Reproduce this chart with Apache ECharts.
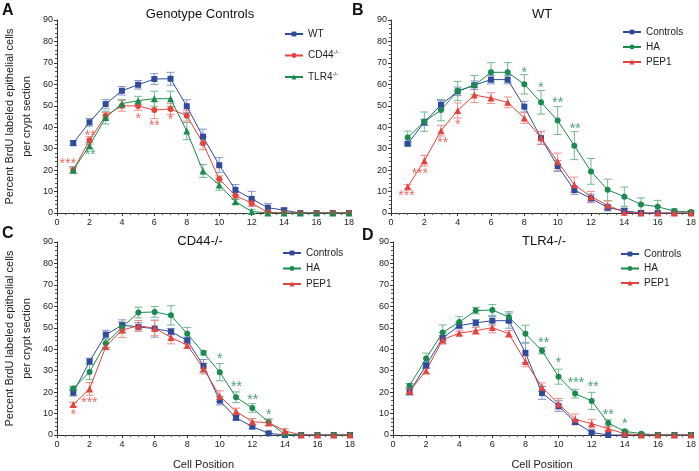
<!DOCTYPE html>
<html>
<head>
<meta charset="utf-8">
<script src="https://cdn.jsdelivr.net/npm/echarts@6/dist/echarts.min.js"></script>
<style>
  html, body { margin: 0; padding: 0; background: #fff; }
  #chart { width: 699px; height: 471px; }
</style>
</head>
<body>
<div id="chart"></div>
<script>
// cell positions along the crypt
const cellPos = [1, 2, 3, 4, 5, 6, 7, 8, 9, 10, 11, 12, 13, 14, 15, 16, 17, 18];
const xTicks = [0, 2, 4, 6, 8, 10, 12, 14, 16, 18];

// A - Genotype Controls
const aWT      = [32.6, 42.3, 50.8, 57.0, 59.8, 62.5, 62.6, 49.8, 35.6, 22.3, 10.8, 6.6, 2.5, 1.3, 0, 0, 0, 0];
const aWTErr   = [1.2, 1.8, 2.2, 2.0, 2.0, 2.5, 3.0, 3.0, 3.5, 3.5, 2.5, 3.5, 2.0, 1.0, 0, 0, 0, 0];
const aCD44    = [20.0, 33.9, 45.4, 50.0, 49.9, 48.0, 48.5, 45.4, 32.5, 15.8, 8.1, 4.6, 0.3, 0, 0, 0, 0, 0];
const aCD44Err = [1.5, 1.8, 1.5, 2.5, 2.0, 4.0, 2.5, 2.5, 3.0, 1.5, 1.5, 1.5, 0.5, 0, 0, 0, 0, 0];
const aTLR4    = [20.0, 31.4, 44.5, 51.0, 52.4, 53.3, 53.3, 38.2, 19.6, 13.1, 5.3, 0.7, 0, 0, 0, 0, 0, 0];
const aTLR4Err = [1.5, 1.5, 3.0, 2.0, 2.0, 3.5, 3.5, 4.0, 3.0, 2.5, 1.0, 1.0, 0, 0, 0, 0, 0, 0];

// B - WT
const bCtrl    = [32.3, 42.3, 50.5, 56.7, 59.6, 62.2, 62.2, 49.6, 34.9, 21.9, 10.7, 6.8, 2.5, 1.1, 0, 0, 0, 0];
const bCtrlErr = [1.0, 1.5, 2.0, 2.0, 2.0, 2.0, 2.0, 2.5, 3.0, 2.5, 2.0, 2.0, 1.5, 1.0, 0, 0, 0, 0];
const bHA      = [35.2, 42.6, 48.0, 56.9, 59.6, 65.6, 65.6, 60.0, 51.6, 43.1, 31.4, 19.4, 10.8, 7.6, 4.0, 2.9, 0.9, 0.5];
const bHAErr   = [3.0, 4.5, 5.0, 4.5, 4.5, 4.5, 4.5, 4.5, 5.5, 6.5, 6.5, 6.0, 5.0, 4.5, 3.0, 3.0, 1.0, 0.5];
const bPEP1    = [12.2, 24.4, 38.4, 47.8, 55.0, 53.6, 51.6, 44.3, 35.1, 23.9, 13.2, 7.6, 3.6, 0.3, 0, 0, 0, 0];
const bPEP1Err = [1.0, 2.5, 2.5, 3.5, 3.5, 2.5, 2.5, 2.5, 3.0, 4.0, 3.5, 2.5, 2.0, 0, 0, 0, 0, 0];

// C - CD44-/-
const cCtrl    = [19.7, 34.3, 46.8, 51.2, 50.4, 49.6, 48.2, 44.1, 32.2, 16.0, 8.0, 3.9, 0.8, 0, 0, 0, 0, 0];
const cCtrlErr = [1.5, 1.5, 2.0, 2.5, 2.0, 4.0, 1.5, 1.5, 3.0, 2.0, 1.0, 1.0, 0.5, 0, 0, 0, 0, 0];
const cHA      = [21.7, 29.4, 42.8, 50.2, 57.1, 57.4, 55.8, 47.2, 38.3, 29.3, 17.6, 12.6, 6.0, 0.3, 0, 0, 0, 0];
const cHAErr   = [1.0, 3.5, 2.0, 2.5, 2.5, 2.5, 4.5, 3.0, 1.0, 4.0, 2.5, 2.0, 1.5, 0.5, 0, 0, 0, 0];
const cPEP1    = [14.2, 21.5, 41.3, 49.0, 50.9, 49.8, 45.5, 41.9, 31.0, 18.1, 11.0, 6.2, 5.7, 1.9, 0, 0, 0, 0];
const cPEP1Err = [1.0, 3.0, 1.5, 3.5, 2.5, 3.5, 3.0, 1.5, 2.5, 2.5, 1.5, 1.5, 1.5, 1.0, 0, 0, 0, 0];

// D - TLR4-/-
const dCtrl    = [20.1, 32.5, 45.2, 51.0, 52.3, 53.3, 53.3, 38.3, 19.6, 13.5, 6.0, 1.2, 0, 0, 0, 0, 0, 0];
const dCtrlErr = [1.5, 1.5, 2.5, 1.5, 1.5, 2.0, 3.5, 4.5, 3.0, 2.5, 1.0, 0.5, 0, 0, 0, 0, 0, 0];
const dHA      = [23.0, 35.7, 47.8, 52.7, 58.0, 58.3, 55.0, 47.2, 39.3, 27.2, 19.3, 15.9, 5.6, 1.7, 0.6, 0, 0, 0];
const dHAErr   = [1.0, 2.5, 3.5, 2.5, 1.5, 2.5, 2.5, 4.0, 1.5, 3.5, 2.0, 4.0, 1.5, 0.5, 0, 0, 0, 0];
const dPEP1    = [20.4, 30.0, 44.4, 47.5, 48.6, 50.1, 47.2, 34.3, 22.3, 14.5, 7.3, 5.3, 2.9, 0.6, 0, 0, 0, 0];
const dPEP1Err = [1.5, 1.5, 2.0, 1.0, 1.5, 2.5, 1.5, 2.5, 2.0, 2.5, 2.5, 2.0, 1.0, 0.5, 0, 0, 0, 0];

// significance marks: [x, y, text]
const aStarsRed   = [[0.66, 24.0, '***'], [2.05, 37.3, '**'], [5, 45.2, '*'], [6, 41.8, '**'], [7, 44.6, '*']];
const aStarsGreen = [[2.05, 28.6, '**']];
const bStarsRed   = [[0.93, 9.2, '***'], [1.73, 19.6, '***'], [3.1, 34.0, '**'], [4, 42.6, '*']];
const bStarsGreen = [[8, 66.7, '*'], [9, 59.7, '*'], [10, 52.7, '**'], [11.05, 40.6, '**']];
const cStarsRed   = [[1, 10.7, '*'], [1.99, 16.2, '***']];
const cStarsGreen = [[10, 36.6, '*'], [11.03, 23.8, '**'], [12.02, 17.8, '**'], [13, 10.8, '*']];
const dStarsGreen = [[9.1, 44.4, '**'], [10, 34.8, '*'], [11.05, 25.7, '***'], [12.1, 23.5, '**'], [13, 10.7, '**'], [14, 6.5, '*']];

const BLUE = '#2f4b9c', RED = '#e5433d', GREEN = '#1b8a4e';
const BLUE_E = '#8595cc', RED_E = '#ef8e89', GREEN_E = '#73b892';
const FONT = 'Liberation Sans, Arial, sans-serif';

const chart = echarts.init(document.getElementById('chart'));

const grids = [
    { left: 50, top: 20, width: 299, height: 193 },
    { left: 391, top: 20, width: 302, height: 193 },
    { left: 51, top: 242, width: 299, height: 194 },
    { left: 393, top: 242, width: 301, height: 194 }
];

function makeX(i, withName) {
    return {
        gridIndex: i, type: 'value', min: 0, max: 18, interval: 2,
        name: withName ? 'Cell Position' : '',
        nameLocation: 'middle', nameGap: 24,
        nameTextStyle: { fontSize: 11, color: '#222', fontFamily: FONT },
        axisLine: { show: true, lineStyle: { color: '#333', width: 1 } },
        axisTick: { show: true, length: 3, lineStyle: { color: '#333' } },
        minorTick: { show: true, splitNumber: 4, length: 2, lineStyle: { color: '#555' } },
        splitLine: { show: false },
        axisLabel: { fontSize: 9, color: '#222', margin: 5, fontFamily: FONT,
            customValues: xTicks }
    };
}

function makeY(i, withName) {
    return {
        gridIndex: i, type: 'value', min: 0, max: 90, interval: 10,
        name: withName ? 'Percent BrdU labeled epithelial cells\nper crypt section' : '',
        nameLocation: 'middle', nameGap: 22, nameRotate: 90,
        nameTextStyle: { fontSize: 11, color: '#222', fontFamily: FONT, lineHeight: 17 },
        axisLine: { show: true, lineStyle: { color: '#333', width: 1 } },
        axisTick: { show: true, length: 3, lineStyle: { color: '#333' } },
        minorTick: { show: true, splitNumber: 5, length: 2, lineStyle: { color: '#555' } },
        splitLine: { show: false },
        axisLabel: { fontSize: 9, color: '#222', margin: 4, fontFamily: FONT }
    };
}

function lineSeries(i, name, values, color, symbol, size) {
    return {
        type: 'line', name: name, xAxisIndex: i, yAxisIndex: i,
        data: cellPos.map((x, k) => [x, values[k]]),
        symbol: symbol, symbolSize: size,
        lineStyle: { color: color, width: 1 },
        itemStyle: { color: color },
        z: 3
    };
}

function errSeries(i, values, errs, color) {
    return {
        type: 'custom', xAxisIndex: i, yAxisIndex: i, silent: true, z: 2,
        data: cellPos.map((x, k) => [x, values[k] - errs[k], values[k] + errs[k]]).filter((d, k) => errs[k] > 0),
        encode: { x: 0, y: [1, 2] },
        renderItem: function (params, api) {
            const lo = api.coord([api.value(0), api.value(1)]);
            const hi = api.coord([api.value(0), api.value(2)]);
            const w = 4;
            const st = { stroke: color, lineWidth: 1 };
            return {
                type: 'group',
                children: [
                    { type: 'line', shape: { x1: lo[0], y1: lo[1], x2: hi[0], y2: hi[1] }, style: st },
                    { type: 'line', shape: { x1: lo[0] - w, y1: lo[1], x2: lo[0] + w, y2: lo[1] }, style: st },
                    { type: 'line', shape: { x1: hi[0] - w, y1: hi[1], x2: hi[0] + w, y2: hi[1] }, style: st }
                ]
            };
        }
    };
}

function starSeries(i, marks, color) {
    return {
        type: 'scatter', xAxisIndex: i, yAxisIndex: i, silent: true, z: 4,
        symbolSize: 0,
        data: marks.map(m => ({ value: [m[0], m[1]], name: m[2] })),
        label: {
            show: true, position: 'inside', formatter: p => p.name,
            color: color, fontSize: 14, fontFamily: FONT, offset: [0, 3]
        }
    };
}

function legend(names, left, top, gap) {
    return {
        data: names, orient: 'vertical', left: left, top: top,
        itemWidth: 18, itemHeight: 6, itemGap: gap,
        selectedMode: false,
        textStyle: {
            fontSize: 10, color: '#222', fontFamily: FONT,
            rich: { sup: { fontSize: 6, verticalAlign: 'top', padding: [0, 0, 6, 0], color: '#222' } }
        },
        formatter: function (n) {
            if (n === 'CD44-/-') return 'CD44{sup|-/-}';
            if (n === 'TLR4-/-') return 'TLR4{sup|-/-}';
            return n;
        }
    };
}

const series = [
    errSeries(0, aWT, aWTErr, BLUE_E), errSeries(0, aCD44, aCD44Err, RED_E), errSeries(0, aTLR4, aTLR4Err, GREEN_E),
    lineSeries(0, 'WT', aWT, BLUE, 'rect', 6), lineSeries(0, 'CD44-/-', aCD44, RED, 'circle', 6), lineSeries(0, 'TLR4-/-', aTLR4, GREEN, 'triangle', 7),
    starSeries(0, aStarsRed, RED), starSeries(0, aStarsGreen, GREEN),

    errSeries(1, bCtrl, bCtrlErr, BLUE_E), errSeries(1, bHA, bHAErr, GREEN_E), errSeries(1, bPEP1, bPEP1Err, RED_E),
    lineSeries(1, 'Controls', bCtrl, BLUE, 'rect', 6), lineSeries(1, 'HA', bHA, GREEN, 'circle', 6), lineSeries(1, 'PEP1', bPEP1, RED, 'triangle', 7),
    starSeries(1, bStarsRed, RED), starSeries(1, bStarsGreen, GREEN),

    errSeries(2, cCtrl, cCtrlErr, BLUE_E), errSeries(2, cHA, cHAErr, GREEN_E), errSeries(2, cPEP1, cPEP1Err, RED_E),
    lineSeries(2, 'Controls', cCtrl, BLUE, 'rect', 6), lineSeries(2, 'HA', cHA, GREEN, 'circle', 6), lineSeries(2, 'PEP1', cPEP1, RED, 'triangle', 7),
    starSeries(2, cStarsRed, RED), starSeries(2, cStarsGreen, GREEN),

    errSeries(3, dCtrl, dCtrlErr, BLUE_E), errSeries(3, dHA, dHAErr, GREEN_E), errSeries(3, dPEP1, dPEP1Err, RED_E),
    lineSeries(3, 'Controls', dCtrl, BLUE, 'rect', 6), lineSeries(3, 'HA', dHA, GREEN, 'circle', 6), lineSeries(3, 'PEP1', dPEP1, RED, 'triangle', 7),
    starSeries(3, dStarsGreen, GREEN)
];

function txt(x, y, s, size, bold, align) {
    return {
        type: 'text', x: x, y: y, silent: true,
        style: { text: s, fontSize: size, fontWeight: bold ? 'bold' : 'normal', fill: '#111',
            fontFamily: FONT, textAlign: align || 'left', textVerticalAlign: 'middle' }
    };
}

const option = {
    animation: false,
    backgroundColor: '#fff',
    textStyle: { fontFamily: FONT },
    grid: grids,
    xAxis: [makeX(0, false), makeX(1, false), makeX(2, true), makeX(3, true)],
    yAxis: [makeY(0, true), makeY(1, false), makeY(2, true), makeY(3, false)],
    legend: [
        legend(['WT', 'CD44-/-', 'TLR4-/-'], 279, 24, 10.5),
        legend(['Controls', 'HA', 'PEP1'], 617, 22, 5),
        legend(['Controls', 'HA', 'PEP1'], 277, 243, 5.5),
        legend(['Controls', 'HA', 'PEP1'], 615, 244, 4.5)
    ],
    graphic: [
        txt(2, 11, 'A', 16, true), txt(352, 11, 'B', 16, true),
        txt(2, 234, 'C', 16, true), txt(362, 236, 'D', 16, true),
        txt(200, 14, 'Genotype Controls', 13, false, 'center'),
        txt(542, 14, 'WT', 13, false, 'center'),
        txt(200, 241, 'CD44-/-', 13, false, 'center'),
        txt(544, 241, 'TLR4-/-', 13, false, 'center')
    ],
    series: series
};

chart.setOption(option);
</script>
</body>
</html>
